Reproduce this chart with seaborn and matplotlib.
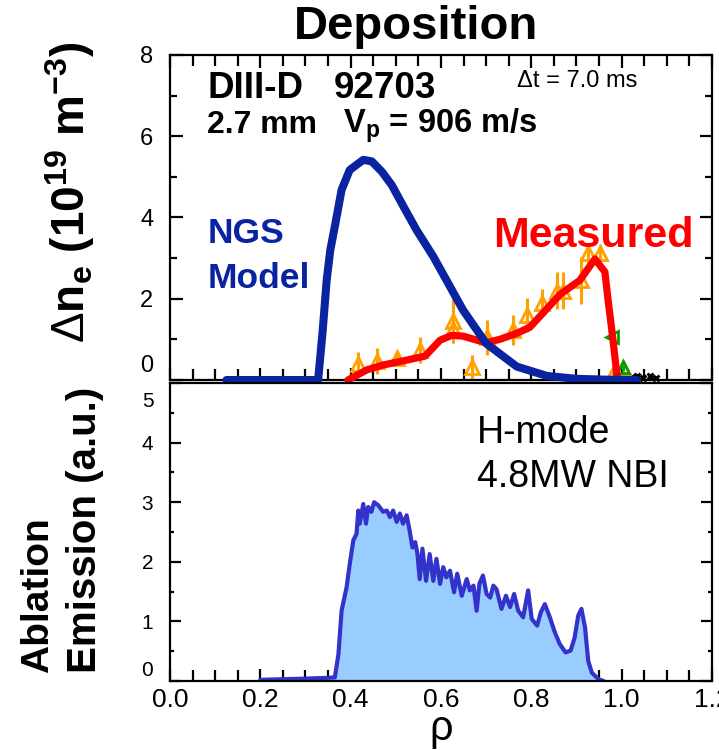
"""
Pellet deposition vs. NGS model, DIII-D shot 92703, with ablation emission below.
"""

import matplotlib
matplotlib.use("Agg")
import matplotlib.pyplot as plt
import matplotlib.transforms as mtransforms
from matplotlib.ticker import MultipleLocator
import seaborn as sns

# --- Data ---
model_rho = [0.125, 0.328, 0.338, 0.347, 0.355, 0.365, 0.38, 0.398, 0.428, 0.447,
             0.469, 0.491, 0.517, 0.546, 0.583, 0.62, 0.649, 0.70, 0.768, 0.835,
             0.90, 0.96, 1.034]
model_ne = [0.0, 0.0, 1.2, 2.46, 3.2, 3.78, 4.68, 5.17, 5.42, 5.38,
            5.13, 4.80, 4.27, 3.69, 3.04, 2.3, 1.72, 0.9, 0.33, 0.1,
            0.03, 0.01, 0.0]

meas_rho = [0.394, 0.436, 0.472, 0.516, 0.565, 0.598, 0.624, 0.649, 0.68, 0.70,
            0.73, 0.768, 0.797, 0.826, 0.863, 0.908, 0.923, 0.941, 0.963, 0.97,
            0.981, 0.99]
meas_ne = [0.0, 0.25, 0.37, 0.47, 0.59, 0.98, 1.10, 1.08, 0.98, 0.92,
           1.0, 1.15, 1.3, 1.65, 2.1, 2.46, 2.7, 2.98, 2.66, 1.97,
           0.98, 0.07]

tri_rho = [0.417, 0.458, 0.502, 0.553, 0.627, 0.627, 0.668, 0.701, 0.760, 0.790,
           0.823, 0.856, 0.871, 0.911, 0.926, 0.952, 0.981, 1.003]
tri_ne = [0.39, 0.47, 0.55, 0.74, 1.45, 1.25, 0.31, 1.05, 1.23, 1.60,
          1.90, 2.20, 2.20, 2.45, 3.12, 3.12, 0.16, 0.30]
tri_err = [0.31, 0.31, 0.12, 0.33, 0.55, 0.35, 0.3, 0.43, 0.37, 0.41,
           0.34, 0.45, 0.45, 0.58, 0.25, 0.2, 0.05, 0.05]

green_rho = [0.978, 1.003]
green_ne = [1.07, 0.33]

black_rho = [1.022, 1.035, 1.048, 1.062, 1.076]
black_ne = [0.08, 0.11, 0.06, 0.09, 0.04]

emis_rho = [0.20, 0.25, 0.30, 0.34, 0.365, 0.373, 0.38, 0.391, 0.398, 0.406,
            0.413, 0.417, 0.42, 0.428, 0.434, 0.439, 0.446, 0.452, 0.461, 0.472,
            0.480, 0.487, 0.494, 0.502, 0.509, 0.516, 0.524, 0.53, 0.537, 0.543,
            0.548, 0.553, 0.559, 0.567, 0.575, 0.583, 0.59, 0.598, 0.605, 0.612,
            0.62, 0.629, 0.636, 0.646, 0.657, 0.664, 0.672, 0.679, 0.685, 0.693,
            0.701, 0.709, 0.716, 0.723, 0.734, 0.744, 0.753, 0.762, 0.771, 0.782,
            0.793, 0.801, 0.813, 0.821, 0.83, 0.841, 0.852, 0.863, 0.876, 0.887,
            0.896, 0.904, 0.911, 0.919, 0.926, 0.934, 0.949, 0.96]
emis_val = [0.02, 0.03, 0.04, 0.05, 0.06, 0.45, 1.18, 1.57, 1.96, 2.36,
            2.47, 2.86, 2.64, 2.97, 2.64, 2.92, 2.84, 3.0, 2.95, 2.84,
            2.86, 2.75, 2.86, 2.67, 2.81, 2.64, 2.78, 2.55, 2.24, 2.33,
            2.13, 1.71, 2.22, 1.68, 2.13, 1.68, 2.05, 1.63, 1.91, 1.74,
            1.85, 1.49, 1.8, 1.43, 1.71, 1.52, 1.6, 1.18, 1.63, 1.77,
            1.46, 1.4, 1.6, 1.54, 1.21, 1.43, 1.24, 1.46, 1.18, 1.07,
            1.52, 1.04, 0.93, 1.15, 1.29, 1.07, 0.82, 0.62, 0.48, 0.51,
            0.73, 1.1, 1.21, 0.9, 0.34, 0.14, 0.03, 0.0]

x_ticks = [0.0, 0.2, 0.4, 0.6, 0.8, 1.0, 1.2]

# --- Style ---
sns.set_theme(style="ticks")
plt.rcParams["font.family"] = ["Liberation Sans", "DejaVu Sans"]
plt.rcParams["mathtext.fontset"] = "custom"
plt.rcParams["mathtext.rm"] = "Liberation Sans"
plt.rcParams["mathtext.bf"] = "Liberation Sans:bold"
plt.rcParams["mathtext.it"] = "Liberation Sans:italic"
plt.rcParams["axes.linewidth"] = 1.6
for key in ["text.color", "axes.labelcolor", "xtick.color", "ytick.color",
            "axes.edgecolor"]:
    plt.rcParams[key] = "black"

NAVY = "#0a23a0"
RED = "#ff0000"
ORANGE = "#ffa000"
GREEN = "#00a000"
EMIS = "#3333cc"
FILL = "#99ccff"

fig = plt.figure(figsize=(7.19, 7.5), dpi=100)
ax1 = fig.add_axes([0.2364, 0.4933, 0.7538, 0.4334])
ax2 = fig.add_axes([0.2364, 0.0920, 0.7538, 0.3973])

# --- Top: deposition ---
ax1.errorbar(tri_rho, tri_ne, yerr=tri_err, fmt="^", color=ORANGE, mfc="none",
             mec=ORANGE, mew=2, ms=10, elinewidth=2.2, capsize=0, zorder=2,
             clip_on=False)
ax1.plot(green_rho[:1], green_ne[:1], "<", color=GREEN, mfc="none", mew=2, ms=9,
         zorder=2, clip_on=False)
ax1.errorbar(green_rho[1:], green_ne[1:], yerr=0.12, fmt="^", color=GREEN,
             mfc="none", mew=2, ms=9, elinewidth=2, zorder=2, clip_on=False)
ax1.plot(black_rho, black_ne, "x", color="black", ms=5, mew=2, zorder=2,
         clip_on=False)
sns.lineplot(x=meas_rho, y=meas_ne, ax=ax1, color=RED, lw=5.2, sort=False,
             estimator=None, zorder=3, clip_on=False, solid_capstyle="round")
sns.lineplot(x=model_rho, y=model_ne, ax=ax1, color=NAVY, lw=5.8, sort=False,
             estimator=None, zorder=4, clip_on=False, solid_capstyle="round")

ax1.xaxis.set_major_locator(MultipleLocator(0.2))
ax1.xaxis.set_minor_locator(MultipleLocator(0.05))
ax1.yaxis.set_major_locator(MultipleLocator(2))
ax1.yaxis.set_minor_locator(MultipleLocator(1))
ax1.set_xlim(0, 1.2)
ax1.set_ylim(0, 8)
ax1.tick_params(which="both", direction="in", top=True, right=True, width=1.6)
ax1.tick_params(axis="x", which="major", length=9, labelbottom=False)
ax1.tick_params(axis="x", which="minor", length=8)
ax1.tick_params(axis="y", which="major", length=9, labelsize=17, pad=12)
ax1.tick_params(axis="y", which="minor", length=5)
ax1.set_xlabel("")
ax1.set_ylabel("")

ax1.text(0.084, 6.95, "DIII-D", fontsize=26.5, fontweight="bold", va="baseline")
ax1.text(0.363, 6.95, "92703", fontsize=26.5, fontweight="bold", va="baseline")
ax1.text(0.082, 6.08, "2.7 mm", fontsize=23, fontweight="bold", va="baseline")
ax1.text(0.383, 6.08, r"V$_\mathbf{p}$ = 906 m/s", fontsize=23.5,
         fontweight="bold", va="baseline")
ax1.text(0.768, 7.22, "Δt = 7.0 ms", fontsize=17, va="baseline")
ax1.text(0.084, 3.37, "NGS", fontsize=25.5, fontweight="bold", color=NAVY,
         va="baseline")
ax1.text(0.084, 2.27, "Model", fontsize=25.5, fontweight="bold", color=NAVY,
         va="baseline")
ax1.text(0.715, 3.28, "Measured", fontsize=31, fontweight="bold", color=RED,
         va="baseline")

# --- Bottom: ablation emission ---
ax2.fill_between(emis_rho, emis_val, 0, color=FILL, lw=0, zorder=1)
sns.lineplot(x=emis_rho, y=emis_val, ax=ax2, color=EMIS, lw=3, sort=False,
             estimator=None, zorder=2)

ax2.set_xticks(x_ticks)
ax2.set_xticklabels([f"{v:.1f}" for v in x_ticks])
ax2.xaxis.set_minor_locator(MultipleLocator(0.05))
ax2.yaxis.set_major_locator(MultipleLocator(1))
ax2.yaxis.set_minor_locator(MultipleLocator(0.5))
ax2.set_xlim(0, 1.2)
ax2.set_ylim(0, 5)
ax2.tick_params(which="both", direction="in", top=False, right=True, width=1.6)
ax2.tick_params(axis="x", which="major", length=9, labelsize=19, pad=5)
ax2.tick_params(axis="x", which="minor", length=8)
ax2.tick_params(axis="y", which="major", length=8, labelsize=15, pad=12)
ax2.tick_params(axis="y", which="minor", length=3)
ax2.set_xlabel("ρ", fontsize=30, labelpad=-2)
ax2.set_ylabel("")

ax2.text(0.68, 4.0, "H-mode", fontsize=27, va="baseline")
ax2.text(0.68, 3.25, "4.8MW NBI", fontsize=27, va="baseline")

# --- Figure texts ---
fig.text(416 / 719, 1 - 27 / 750, "Deposition", fontsize=34, fontweight="bold",
         ha="center", va="center")
fig.text(70 / 719, 1 - 192 / 750, r"$\Delta\mathbf{n_e\ (10^{19}\ m^{-3})}$",
         fontsize=33, rotation=90, ha="center", va="center")
fig.text(38 / 719, 1 - 673 / 750, "Ablation", fontsize=28, fontweight="bold",
         rotation=90, ha="center", va="bottom")
fig.text(85 / 719, 1 - 673 / 750, "Emission (a.u.)", fontsize=29,
         fontweight="bold", rotation=90, ha="center", va="bottom")


# nudge the end tick labels inward as in the original
def nudge(label, dy):
    label.set_transform(mtransforms.offset_copy(label.get_transform(), fig=fig,
                                                x=0, y=dy, units="dots"))


fig.canvas.draw()
for tick in ax1.yaxis.get_major_ticks():
    if abs(tick.get_loc()) < 1e-9:
        nudge(tick.label1, 17)
for tick in ax2.yaxis.get_major_ticks():
    if abs(tick.get_loc()) < 1e-9:
        nudge(tick.label1, 12)
    elif abs(tick.get_loc() - 5) < 1e-9:
        nudge(tick.label1, -16)

fig.savefig("out.png", dpi=100)
print("saved out.png")
